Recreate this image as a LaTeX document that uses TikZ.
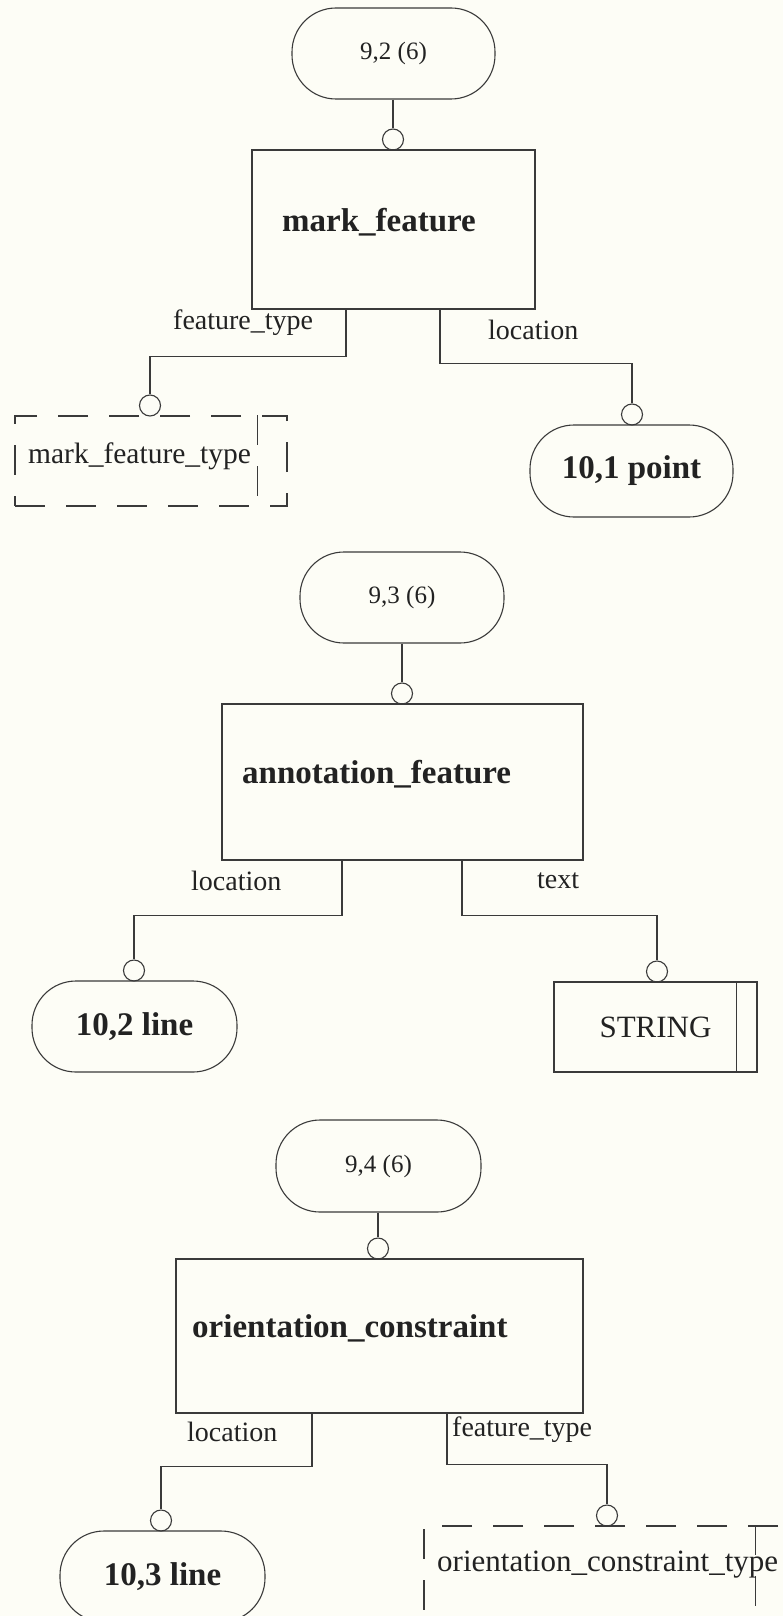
\documentclass[tikz,border=0pt]{standalone}
\usepackage{fontspec}
\setmainfont{Liberation Serif}
\definecolor{paper}{HTML}{FDFDF6}
\definecolor{ink}{HTML}{3A3A3A}
\definecolor{txt}{HTML}{222222}
\begin{document}
\begin{tikzpicture}[x=1pt,y=-1pt,
  wire/.style={draw=ink, line width=1.1pt},
  dashwire/.style={wire, dash pattern=on 30pt off 21pt},
  entbox/.style={wire, rectangle, inner sep=0pt},
  refbox/.style={wire, rectangle, rounded corners=44pt, inner sep=0pt, text=txt},
  typebox/.style={dashwire, rectangle, inner sep=0pt},
  simplebox/.style={wire, rectangle, inner sep=0pt, text=txt},
  pin/.style={wire, circle, minimum size=21pt, inner sep=0pt, fill=paper},
  bigbold/.style={font=\bfseries\fontsize{33}{36}\selectfont, text=txt},
  smallref/.style={font=\fontsize{25}{28}\selectfont},
  attr/.style={font=\fontsize{28}{30}\selectfont, text=txt, inner sep=0pt, anchor=west},
  typename/.style={text=txt, inner sep=0pt, anchor=west}
]
\path[use as bounding box, fill=paper] (0,0) rectangle (783,1616);
\clip (0,0) rectangle (783,1616);

% ---------- mark_feature ----------
\node[refbox, smallref, minimum width=203pt, minimum height=91pt] (r1) at (393.5,53.5) {9,2 (6)};
\node[pin] (p1) at (393,139.5) {};
\node[entbox, minimum width=283pt, minimum height=159pt] (m1) at (393.5,229.5) {};
\node[bigbold, anchor=base west, inner sep=0pt] (m1t) at (282,231) {mark\_feature};

\node[pin] (p1a) at (150,405.5) {};
\node[typebox, minimum width=272pt, minimum height=90pt] (d1) at (151,461) {};
\draw[dashwire] ([xshift=-30pt]d1.north east) -- ([xshift=-30pt]d1.south east);
\node[typename, font=\fontsize{29.5}{32}\selectfont] (d1t) at (28,456) {mark\_feature\_type};

\node[pin] (p1b) at (632,414.5) {};
\node[refbox, bigbold, minimum width=203pt, minimum height=92pt] (t1) at (631.5,471) {10,1 point};

\draw[wire] (p1.north |- r1.south) -- (p1.north);
\draw[wire] ([xshift=-47.5pt]m1.south) -- ++(0,47) -| (p1a.north);
\draw[wire] ([xshift=46.5pt]m1.south) -- ++(0,54) -| (p1b.north);
\node[attr] (l1a) at (173,323) {feature\_type};
\node[attr] (l1b) at (488,330) {location};

% ---------- annotation_feature ----------
\node[refbox, smallref, minimum width=204pt, minimum height=91pt] (r2) at (402,597.5) {9,3 (6)};
\node[pin] (p2) at (402,693.5) {};
\node[entbox, minimum width=361pt, minimum height=156pt] (m2) at (402.5,782) {};
\node[bigbold, anchor=base west, inner sep=0pt] (m2t) at (242,783) {annotation\_feature};

\node[pin] (p2a) at (134,970.5) {};
\node[refbox, bigbold, minimum width=205pt, minimum height=91pt] (t2) at (134.5,1026.5) {10,2 line};

\node[pin] (p2b) at (657,971.5) {};
\node[simplebox, font=\fontsize{31}{34}\selectfont, minimum width=203pt, minimum height=90pt] (s2) at (655.5,1027) {STRING};
\draw[wire] ([xshift=-21pt]s2.north east) -- ([xshift=-21pt]s2.south east);

\draw[wire] (p2.north |- r2.south) -- (p2.north);
\draw[wire] ([xshift=-60.5pt]m2.south) -- ++(0,55) -| (p2a.north);
\draw[wire] ([xshift=59.5pt]m2.south) -- ++(0,55) -| (p2b.north);
\node[attr] (l2a) at (191,881) {location};
\node[attr] (l2b) at (537,881) {text};

% ---------- orientation_constraint ----------
\node[refbox, smallref, minimum width=205pt, minimum height=92pt] (r3) at (378.5,1166) {9,4 (6)};
\node[pin] (p3) at (378,1248.5) {};
\node[entbox, minimum width=407pt, minimum height=154pt] (m3) at (379.5,1336) {};
\node[bigbold, anchor=base west, inner sep=0pt] (m3t) at (192,1337) {orientation\_constraint};

\node[pin] (p3a) at (161,1520.5) {};
\node[refbox, bigbold, minimum width=205pt, minimum height=91pt] (t3) at (162.5,1576.5) {10,3 line};

\node[pin] (p3b) at (607,1515.5) {};
\node[typebox, minimum width=361pt, minimum height=91pt] (d3) at (604.5,1571.5) {};
\draw[dashwire] ([xshift=-30pt]d3.north east) -- ([xshift=-30pt]d3.south east);
\node[typename, font=\fontsize{31}{34}\selectfont] (d3t) at (437,1565) {orientation\_constraint\_type};

\draw[wire] (p3.north |- r3.south) -- (p3.north);
\draw[wire] ([xshift=-67.5pt]m3.south) -- ++(0,53) -| (p3a.north);
\draw[wire] ([xshift=67.5pt]m3.south) -- ++(0,51) -| (p3b.north);
\node[attr] (l3a) at (187,1432) {location};
\node[attr] (l3b) at (452,1430) {feature\_type};
\end{tikzpicture}
\end{document}
